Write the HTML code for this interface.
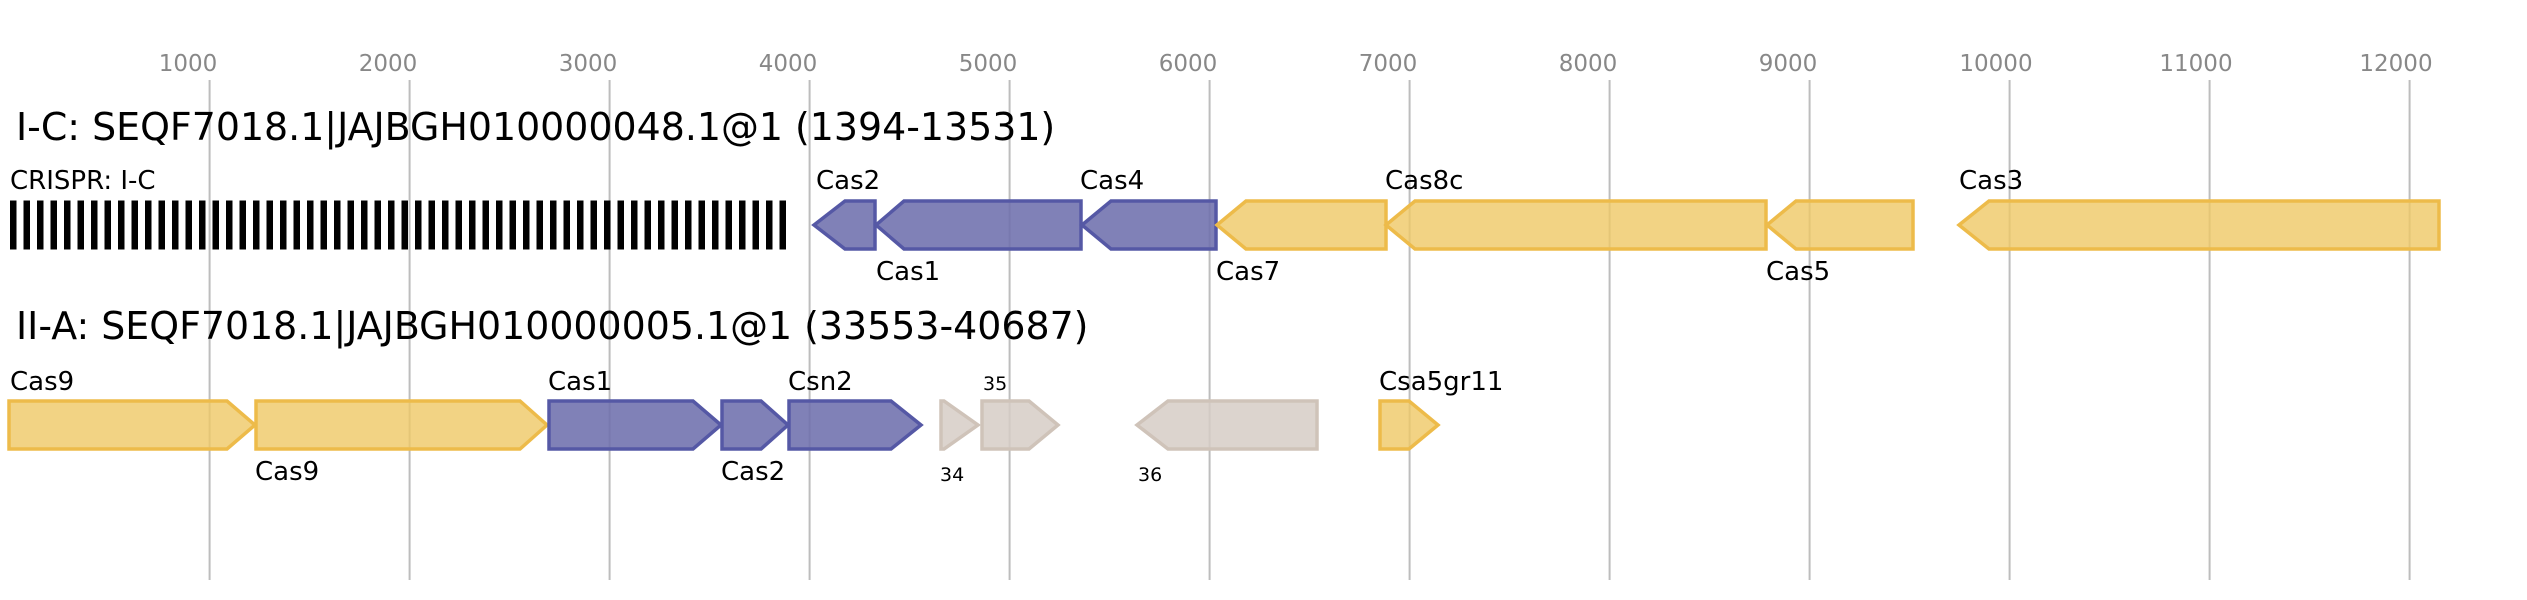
<!DOCTYPE html>
<html><head><meta charset="utf-8"><style>
html,body{margin:0;padding:0;background:#fff;}
svg{display:block;font-family:"DejaVu Sans","Liberation Sans",sans-serif;}
</style></head><body>
<svg width="2527" height="600" viewBox="0 0 2527 600" xmlns="http://www.w3.org/2000/svg">
<defs>
<pattern id="cp" x="10" y="0" width="13.5" height="600" patternUnits="userSpaceOnUse">
<rect x="0" y="0" width="6.5" height="600" fill="#000"/>
</pattern>
</defs>
<g stroke="#bdbdbd" stroke-width="2">
<line x1="209.6" y1="80" x2="209.6" y2="580"/><line x1="409.6" y1="80" x2="409.6" y2="580"/>
<line x1="609.6" y1="80" x2="609.6" y2="580"/><line x1="809.6" y1="80" x2="809.6" y2="580"/>
<line x1="1009.6" y1="80" x2="1009.6" y2="580"/><line x1="1209.6" y1="80" x2="1209.6" y2="580"/>
<line x1="1409.6" y1="80" x2="1409.6" y2="580"/><line x1="1609.6" y1="80" x2="1609.6" y2="580"/>
<line x1="1809.6" y1="80" x2="1809.6" y2="580"/><line x1="2009.6" y1="80" x2="2009.6" y2="580"/>
<line x1="2209.6" y1="80" x2="2209.6" y2="580"/><line x1="2409.6" y1="80" x2="2409.6" y2="580"/>
</g>
<g fill="#888" font-size="23" text-anchor="middle">
<text x="188" y="71">1000</text><text x="388" y="71">2000</text><text x="588" y="71">3000</text>
<text x="788" y="71">4000</text><text x="988" y="71">5000</text><text x="1188" y="71">6000</text>
<text x="1388" y="71">7000</text><text x="1588" y="71">8000</text><text x="1788" y="71">9000</text>
<text x="1996" y="71">10000</text><text x="2196" y="71">11000</text><text x="2396" y="71">12000</text>
</g>
<g font-size="37.9" fill="#000">
<text x="16" y="140">I-C: SEQF7018.1|JAJBGH010000048.1@1 (1394-13531)</text>
<text x="16" y="339">II-A: SEQF7018.1|JAJBGH010000005.1@1 (33553-40687)</text>
</g>
<rect x="10" y="200.5" width="776" height="49" fill="url(#cp)"/>
<g stroke-width="3.5" fill-opacity="0.88">
<g fill="#6e70ad" stroke="#5558a5">
<polygon points="814,225 845,201 875,201 875,249 845,249"/>
<polygon points="876,225 904,201 1081,201 1081,249 904,249"/>
<polygon points="1082,225 1111,201 1216,201 1216,249 1111,249"/>
</g>
<g fill="#efc865" stroke="#edbb4a" fill-opacity="0.8">
<polygon points="1217,225 1246,201 1386,201 1386,249 1246,249"/>
<polygon points="1386,225 1415,201 1766,201 1766,249 1415,249"/>
<polygon points="1767,225 1796,201 1913,201 1913,249 1796,249"/>
<polygon points="1959,225 1989,201 2439,201 2439,249 1989,249"/>
<polygon points="9,401 227,401 255,425 227,449 9,449"/>
<polygon points="256,401 520,401 547,425 520,449 256,449"/>
<polygon points="1380,401 1409,401 1438,425 1409,449 1380,449"/>
</g>
<g fill="#6e70ad" stroke="#5558a5">
<polygon points="549,401 693,401 721,425 693,449 549,449"/>
<polygon points="722,401 761,401 788,425 761,449 722,449"/>
<polygon points="789,401 891,401 921,425 891,449 789,449"/>
</g>
<g fill="#d6ccc5" stroke="#cfc3b9" fill-opacity="0.85">
<polygon points="941,401 944,401 978,425 944,449 941,449"/>
<polygon points="982,401 1029,401 1058,425 1029,449 982,449"/>
<polygon points="1137,425 1168,401 1317,401 1317,449 1168,449"/>
</g>
</g>
<g font-size="26" fill="#000">
<text x="10" y="189">CRISPR: I-C</text>
<text x="816" y="189">Cas2</text>
<text x="876" y="280">Cas1</text>
<text x="1080" y="189">Cas4</text>
<text x="1216" y="280">Cas7</text>
<text x="1385" y="189">Cas8c</text>
<text x="1766" y="280">Cas5</text>
<text x="1959" y="189">Cas3</text>
<text x="10" y="390">Cas9</text>
<text x="255" y="480">Cas9</text>
<text x="548" y="390">Cas1</text>
<text x="721" y="480">Cas2</text>
<text x="788" y="390">Csn2</text>
<text x="1379" y="390">Csa5gr11</text>
</g>
<g font-size="19" fill="#000">
<text x="983" y="390">35</text>
<text x="940" y="481">34</text>
<text x="1138" y="481">36</text>
</g>
</svg>
</body></html>
